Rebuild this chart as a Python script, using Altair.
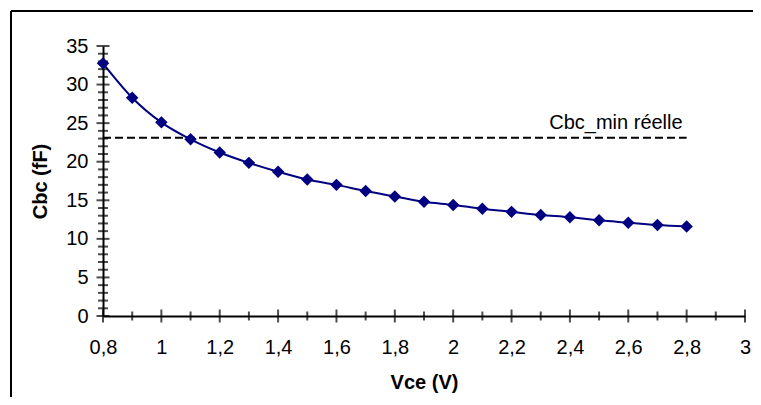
import altair as alt
import pandas as pd

# ---- data ----
vce = [0.8, 0.9, 1.0, 1.1, 1.2, 1.3, 1.4, 1.5, 1.6, 1.7, 1.8,
       1.9, 2.0, 2.1, 2.2, 2.3, 2.4, 2.5, 2.6, 2.7, 2.8]
cbc = [32.75, 28.3, 25.1, 22.9, 21.2, 19.85, 18.7, 17.7, 17.0, 16.2, 15.5,
       14.8, 14.4, 13.9, 13.5, 13.1, 12.8, 12.4, 12.1, 11.8, 11.6]
cbc_min_value = 23.1
cbc_min_x = [0.8, 2.8]
cbc_min_label = "Cbc_min réelle"

x_major = [0.8, 1.0, 1.2, 1.4, 1.6, 1.8, 2.0, 2.2, 2.4, 2.6, 2.8, 3.0]
x_minor = [0.9, 1.1, 1.3, 1.5, 1.7, 1.9, 2.1, 2.3, 2.5, 2.7, 2.9]
y_major = [0, 5, 10, 15, 20, 25, 30, 35]
y_minor = [1, 2, 3, 4, 6, 7, 8, 9, 11, 12, 13, 14, 16, 17, 18, 19,
           21, 22, 23, 24, 26, 27, 28, 29, 31, 32, 33, 34]

FONT = "Liberation Sans"
NAVY = "#000080"
FS = 20

df = pd.DataFrame({"vce": vce, "cbc": cbc})

xscale = alt.Scale(domain=[0.8, 3.0], nice=False, zero=False)
yscale = alt.Scale(domain=[0, 35], nice=False, zero=True)

x_axis = alt.Axis(
    values=x_major, ticks=False, grid=False, labelOverlap=False, labelFlush=False,
    labelExpr="replace(format(datum.value, '.1~f'), '.', ',')",
    domainColor="black", domainWidth=2,
    labelFont=FONT, labelFontSize=FS, labelColor="black", labelPadding=21,
    title="Vce (V)", titleFont=FONT, titleFontSize=FS, titleFontWeight="bold",
    titleColor="black", titlePadding=15,
)
y_axis = alt.Axis(
    values=y_major, ticks=False, grid=False, labelOverlap=False, labelFlush=False,
    labelExpr="format(datum.value, '~g')",
    domainColor="black", domainWidth=2,
    labelFont=FONT, labelFontSize=FS, labelColor="black", labelPadding=15,
    title="Cbc (fF)", titleFont=FONT, titleFontSize=FS, titleFontWeight="bold",
    titleColor="black", titlePadding=15,
)


def X():
    return alt.X("vce:Q", scale=xscale, axis=x_axis)


def Y():
    return alt.Y("cbc:Q", scale=yscale, axis=y_axis)


one = alt.Data(values=[{}])

frame_top = alt.Chart(one).mark_rule(color="black", strokeWidth=2).encode(
    x=alt.value(-92), x2=alt.value(650), y=alt.value(-35))
frame_left = alt.Chart(one).mark_rule(color="black", strokeWidth=2).encode(
    x=alt.value(-92), y=alt.value(-35), y2=alt.value(400))

line = alt.Chart(df).mark_line(color=NAVY, strokeWidth=2, interpolate="monotone").encode(
    x=X(), y=Y())
pts = alt.Chart(df).mark_point(shape="diamond", filled=True, color=NAVY, size=155, opacity=1).encode(
    x=X(), y=Y())

dash_df = pd.DataFrame({"vce": cbc_min_x, "cbc": [cbc_min_value] * len(cbc_min_x)})
dash = alt.Chart(dash_df).mark_line(color="black", strokeWidth=2, strokeDash=[8, 4]).encode(
    x=X(), y=Y())
label = alt.Chart(pd.DataFrame({"vce": [cbc_min_x[1]], "cbc": [cbc_min_value], "t": [cbc_min_label]})).mark_text(
    align="right", baseline="bottom", dx=-4, dy=-5, font=FONT, fontSize=FS, color="black"
).encode(x=X(), y=Y(), text="t:N")

ymaj = alt.Chart(pd.DataFrame({"cbc": y_major})).mark_tick(
    orient="horizontal", size=13, thickness=2, color="black").encode(
    x=alt.datum(0.8, scale=xscale, axis=x_axis), y=Y())
ymin = alt.Chart(pd.DataFrame({"cbc": y_minor})).mark_tick(
    orient="horizontal", size=10, thickness=2, color="black").encode(
    x=alt.datum(0.8, scale=xscale, axis=x_axis), y=Y())
xmaj = alt.Chart(pd.DataFrame({"vce": x_major})).mark_tick(
    orient="vertical", size=13, thickness=2, color="black").encode(
    x=X(), y=alt.datum(0, scale=yscale, axis=y_axis))
xmin = alt.Chart(pd.DataFrame({"vce": x_minor})).mark_tick(
    orient="vertical", size=9, thickness=2, color="black").encode(
    x=X(), y=alt.datum(0, scale=yscale, axis=y_axis))

chart = alt.layer(
    frame_top, frame_left, line, dash, label, ymaj, ymin, xmaj, xmin, pts
).properties(
    width=642, height=270,
    autosize=alt.AutoSizeParams(type="none"),
    padding={"left": 95, "top": 38, "right": 8, "bottom": 81},
    background="white",
).configure_view(stroke=None).configure_axis(labelOverlap=False)

chart.save("out.html", embed_options={"renderer": "svg", "actions": False})
